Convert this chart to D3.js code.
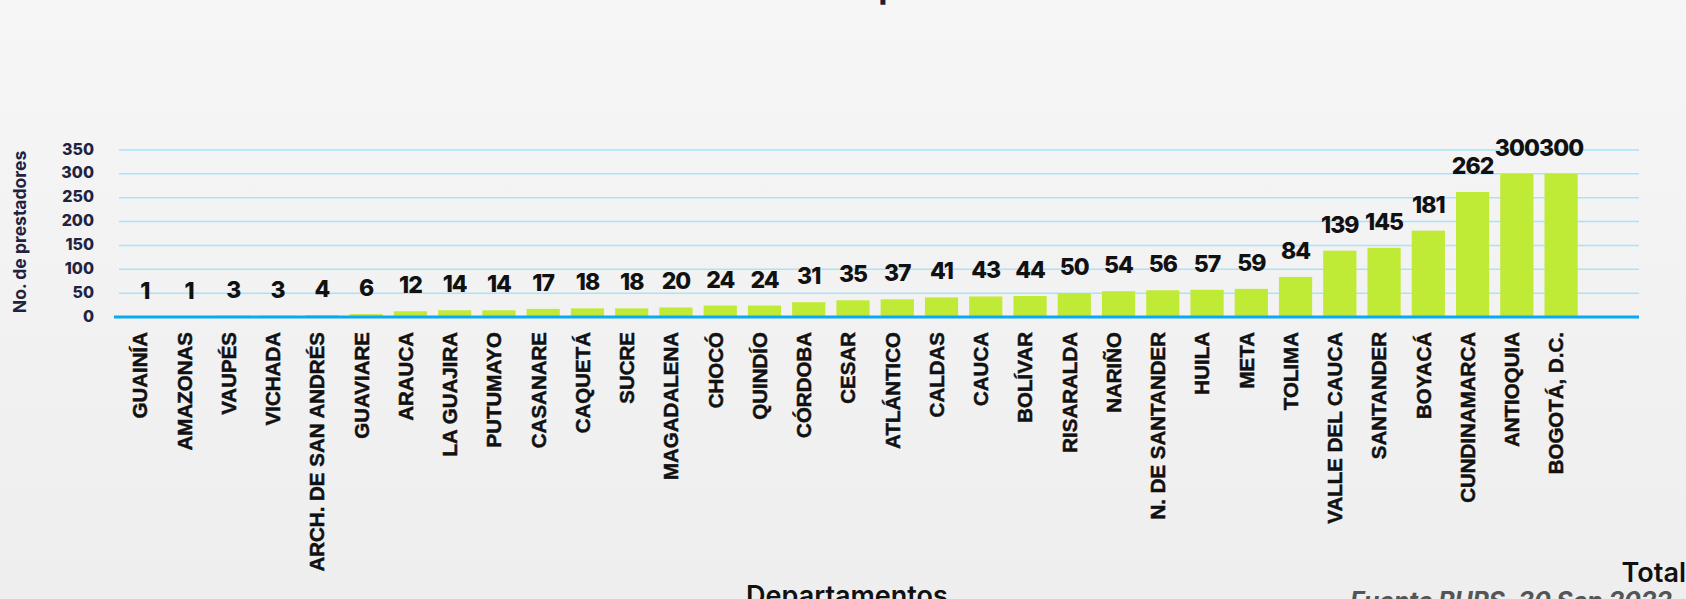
<!DOCTYPE html>
<html>
<head>
<meta charset="utf-8">
<script src="https://cdn.jsdelivr.net/npm/d3@7"></script>
<style>
  html, body { margin: 0; padding: 0; overflow: hidden; }
  svg { display: block; }
</style>
</head>
<body>
<svg id="chart"></svg>
<script>
'use strict';

/* Data */

var departamentos = ['GUAINÍA', 'AMAZONAS', 'VAUPÉS', 'VICHADA', 'ARCH. DE SAN ANDRÉS', 'GUAVIARE',
  'ARAUCA', 'LA GUAJIRA', 'PUTUMAYO', 'CASANARE', 'CAQUETÁ', 'SUCRE', 'MAGADALENA', 'CHOCÓ',
  'QUINDÍO', 'CÓRDOBA', 'CESAR', 'ATLÁNTICO', 'CALDAS', 'CAUCA', 'BOLÍVAR', 'RISARALDA',
  'NARIÑO', 'N. DE SANTANDER', 'HUILA', 'META', 'TOLIMA', 'VALLE DEL CAUCA', 'SANTANDER',
  'BOYACÁ', 'CUNDINAMARCA', 'ANTIOQUIA', 'BOGOTÁ, D.C.'];

var prestadores = [1, 1, 3, 3, 4, 6, 12, 14, 14, 17, 18, 18, 20, 24, 24, 31, 35, 37, 41, 43,
  44, 50, 54, 56, 57, 59, 84, 139, 145, 181, 262, 300, 300];

var yTicks = [0, 50, 100, 150, 200, 250, 300, 350];

var W = 1686, H = 599;

var svg = d3.select('#chart')
  .attr('width', W)
  .attr('height', H);

/* background, a soft grey fade */
var grad = svg.append('defs').append('linearGradient')
  .attr('id', 'bg').attr('x1', 0).attr('y1', 0).attr('x2', 0).attr('y2', 1);
grad.append('stop').attr('offset', '0%').attr('stop-color', '#f6f6f6');
grad.append('stop').attr('offset', '100%').attr('stop-color', '#eeeeee');
svg.append('rect').attr('width', W).attr('height', H).attr('fill', 'url(#bg)');

var data = departamentos.map(function (d, i) {
  return { dep: d, n: prestadores[i] };
});

var x = d3.scaleBand()
  .domain(departamentos)
  .range([123, 1583])
  .paddingInner(0.25)
  .paddingOuter(0.12);

var y = d3.scaleLinear()
  .domain([0, 350])
  .range([317, 150]);

/* title, mostly cut off by the top edge */
svg.append('text')
  .attr('x', 738).attr('y', -2)
  .style('font-family', 'Inter, sans-serif')
  .style('font-weight', 700)
  .style('font-size', '34px')
  .attr('fill', '#1b1f3b')
  .text('Total de prestadores');

/* grid */
svg.append('g')
  .selectAll('line')
  .data(yTicks.filter(function (t) { return t > 0; }))
  .enter().append('line')
  .attr('x1', 119).attr('x2', 1639)
  .attr('y1', function (d) { return y(d); })
  .attr('y2', function (d) { return y(d); })
  .attr('stroke', '#a9e3fa')
  .attr('stroke-width', 1.5);

/* y axis labels */
var yAxis = svg.append('g')
  .attr('transform', 'translate(94,0)')
  .call(d3.axisLeft(y).tickValues(yTicks).tickSize(0).tickPadding(0));
yAxis.select('.domain').remove();
yAxis.selectAll('text')
  .attr('dy', '0.25em')
  .style('font-family', 'Inter, sans-serif')
  .style('font-weight', 800)
  .style('font-size', '16px')
  .attr('fill', '#1f2340');

svg.append('text')
  .attr('transform', 'translate(20,232) rotate(-90)')
  .attr('text-anchor', 'middle')
  .attr('dy', '0.35em')
  .style('font-family', 'Inter, sans-serif')
  .style('font-weight', 700)
  .style('font-size', '17.5px')
  .attr('fill', '#1f2340')
  .text('No. de prestadores');

/* bars */
svg.append('g')
  .selectAll('rect')
  .data(data)
  .enter().append('rect')
  .attr('x', function (d) { return x(d.dep); })
  .attr('y', function (d) { return y(d.n); })
  .attr('width', x.bandwidth())
  .attr('height', function (d) { return y(0) - y(d.n); })
  .attr('fill', '#bfea35');

/* base line */
svg.append('line')
  .attr('x1', 114).attr('x2', 1639)
  .attr('y1', y(0)).attr('y2', y(0))
  .attr('stroke', '#0aa9f2')
  .attr('stroke-width', 3);

/* value labels */
svg.append('g')
  .selectAll('text')
  .data(data)
  .enter().append('text')
  .attr('x', function (d) { return x(d.dep) + x.bandwidth() / 2; })
  .attr('y', function (d) { return y(d.n) - 18; })
  .attr('text-anchor', 'middle')
  .style('font-family', 'Inter, sans-serif')
  .style('font-weight', 800)
  .style('font-size', '23px')
  .style('letter-spacing', '-1px')
  .attr('fill', '#111')
  .text(function (d) { return d.n; });

/* category labels */
var xAxis = svg.append('g')
  .attr('transform', 'translate(-5,' + 332 + ')')
  .call(d3.axisBottom(x).tickSize(0).tickPadding(0));
xAxis.select('.domain').remove();
xAxis.selectAll('text')
  .attr('transform', 'rotate(-90)')
  .attr('x', 0).attr('y', 0)
  .attr('dy', '0.36em')
  .attr('text-anchor', 'end')
  .style('font-family', '"Liberation Sans", Arial, sans-serif')
  .style('font-weight', 700)
  .style('font-size', '20.5px')
  .attr('fill', '#111')
  .attr('stroke', '#111')
  .attr('stroke-width', 0.5);

svg.append('text')
  .attr('x', 847).attr('y', 605)
  .attr('text-anchor', 'middle')
  .style('font-family', 'Inter, sans-serif')
  .style('font-weight', 600)
  .style('font-size', '27px')
  .attr('fill', '#111')
  .text('Departamentos');

/* bottom right notes */
svg.append('text')
  .attr('x', 1686).attr('y', 582)
  .attr('text-anchor', 'end')
  .style('font-family', 'Inter, sans-serif')
  .style('font-weight', 600)
  .style('font-size', '27px')
  .attr('fill', '#111')
  .text('Total');

svg.append('text')
  .attr('x', 1350).attr('y', 610)
  .style('font-family', 'Inter, sans-serif')
  .style('font-weight', 700)
  .style('font-style', 'italic')
  .style('font-size', '25px')
  .attr('fill', '#555')
  .attr('textLength', 322)
  .text('Fuente RUPS, 30 Sep 2022');
</script>
</body>
</html>
